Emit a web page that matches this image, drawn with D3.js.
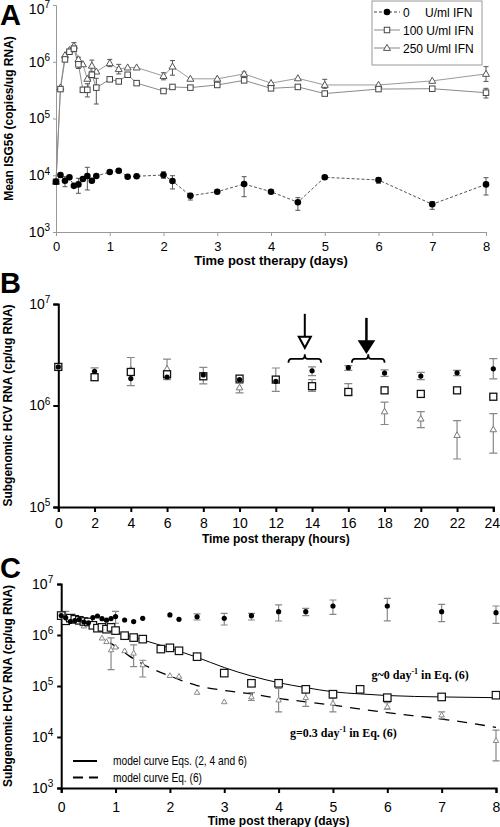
<!DOCTYPE html>
<html><head><meta charset="utf-8">
<script src="https://cdn.jsdelivr.net/npm/d3@7"></script>
<style>
body{margin:0;background:#fff}
svg{display:block;font-family:"Liberation Sans",Arial,sans-serif}
</style>
</head><body>
<svg id="chart" width="500" height="827"></svg>
<script>
// ---------------- Panel A data ----------------
const aDays = [0,0.083,0.167,0.25,0.333,0.417,0.5,0.583,0.667,0.75,1.0,1.167,1.333,1.5,2.0,2.167,2.5,3,3.5,4,4.5,5,6,7,8];
const aIfn0 = [7700,10100,8000,9200,6500,6900,8600,9700,8000,9700,11400,12000,9400,9600,10100,7900,4360,5130,7000,5130,3340,9200,8250,3080,6900];
const aIfn0Lo = [null,null,6290,null,null,4810,null,5500,null,null,null,null,null,null,8840,5730,3660,null,4190,null,2410,8590,7210,2510,4490];
const aIfn0Hi = [null,null,9440,null,null,8840,null,13800,null,null,null,null,null,null,11550,9820,4810,null,9440,null,4030,9710,9060,3420,9060];
const aIfn100 = [7700,3.3e5,1.1e6,1.5e6,1.7e6,9e5,3.2e5,3.2e5,5.9e5,3.5e5,4.9e5,4.5e5,5.9e5,4.2e5,3.05e5,3.6e5,3.5e5,3.9e5,4.7e5,3.4e5,3.6e5,2.75e5,3.3e5,3.35e5,2.85e5];
const aIfn100Lo = [null,null,null,null,null,null,null,2.4e5,null,1.8e5,null,null,null,null,null,null,null,null,null,null,null,null,null,null,2.3e5];
const aIfn100Hi = [null,null,null,null,null,null,null,4.1e5,null,5.1e5,null,null,null,null,null,null,null,null,null,null,null,null,null,null,3.4e5];
const aIfn250 = [7700,3.5e5,1.3e6,1.6e6,1.9e6,1.1e6,9e5,5.0e5,8.5e5,6.7e5,9.4e5,7.4e5,7.9e5,7.9e5,5.6e5,8.2e5,5.0e5,5.0e5,6.1e5,4.2e5,5.1e5,3.9e5,3.9e5,4.6e5,6.1e5];
const aIfn250Lo = [null,null,null,null,1.6e6,7.6e5,null,null,6.6e5,null,8.2e5,6.1e5,null,null,4.8e5,5.8e5,null,null,5.6e5,null,null,3.4e5,null,null,4.5e5];
const aIfn250Hi = [null,null,null,null,2.17e6,1.2e6,null,null,1.07e6,null,1.1e6,9e5,null,null,6.4e5,1.05e6,null,null,6.6e5,null,null,4.9e5,null,null,8.2e5];
const aXTicks = [0,1,2,3,4,5,6,7,8];
const aYTicks = [1e3,1e4,1e5,1e6,1e7];
const aLegend = ["0", "100 U/ml IFN", "250 U/ml IFN"];

// ---------------- Panel B data ----------------
const bHours = [0,2,4,6,8,10,12,14,16,18,20,22,24];
const bIfn0 = [2.4e6,2.17e6,1.84e6,1.91e6,2.0e6,1.8e6,1.73e6,2.2e6,2.36e6,2.09e6,1.95e6,2.1e6,2.3e6];
const bIfn0Lo = [null,null,null,null,null,null,null,1.97e6,2.22e6,1.94e6,1.8e6,1.97e6,1.83e6];
const bIfn0Hi = [null,null,null,null,null,null,null,2.4e6,2.47e6,2.24e6,2.12e6,2.22e6,2.9e6];
const bIfn100 = [2.4e6,1.9e6,2.14e6,2.03e6,1.94e6,1.84e6,1.8e6,1.55e6,1.36e6,1.41e6,1.3e6,1.41e6,1.22e6];
const bIfn250 = [2.4e6,2.0e6,2.25e6,2.3e6,1.9e6,1.5e6,1.8e6,1.55e6,1.36e6,8.7e5,7.4e5,5.1e5,5.8e5];
const bIfn250Lo = [null,1.77e6,1.57e6,1.8e6,1.63e6,1.33e6,1.38e6,1.38e6,1.25e6,6.5e5,6.05e5,2.97e5,3.4e5];
const bIfn250Hi = [null,2.35e6,2.97e6,2.87e6,2.37e6,1.65e6,2.34e6,1.8e6,1.64e6,1.08e6,8.7e5,7.1e5,8.3e5];
const bXTicks = [0,2,4,6,8,10,12,14,16,18,20,22,24];
const bYTicks = [1e5,1e6,1e7];
// annotations (hours, values)
const bArrowHours = [13.6, 17.0];
const bArrowTop = [8.0e6, 7.3e6];
const bArrowTip = [3.7e6, 3.35e6];
const bArrowFilled = [false, true];
const bBraceFrom = [12.7, 16.2];
const bBraceTo = [14.5, 18.0];
const bBracePeak = [3.2e6, 3.2e6];
const bBraceEnd = [2.64e6, 2.64e6];

// ---------------- Panel C data ----------------
const cDays0 = [0,0.083,0.167,0.25,0.333,0.417,0.5,0.583,0.667,0.75,0.833,0.917,1.0,1.167,1.333,1.5,2.0,2.167,2.5,3,3.5,4,4.5,5,6,7,8];
const cIfn0 = [2.4e6,2.17e6,1.84e6,1.91e6,2.0e6,1.8e6,1.73e6,2.2e6,2.36e6,2.09e6,1.95e6,2.1e6,2.3e6,1.97e6,1.83e6,2.12e6,2.47e6,2.03e6,2.28e6,2.12e6,2.39e6,2.87e6,2.87e6,3.7e6,3.7e6,2.87e6,2.74e6];
const cIfn0Lo = [null,null,null,null,null,null,null,null,null,null,null,null,1.7e6,null,null,null,null,null,1.97e6,1.57e6,1.97e6,1.88e6,2.39e6,2.54e6,1.9e6,1.83e6,1.69e6];
const cIfn0Hi = [null,null,null,null,null,null,null,null,null,null,null,null,2.9e6,null,null,null,null,null,2.6e6,2.65e6,2.66e6,3.88e6,3.33e6,4.86e6,5.24e6,3.99e6,3.7e6];
const cDays100 = [0,0.083,0.167,0.25,0.333,0.417,0.5,0.583,0.667,0.75,0.833,0.917,1.0,1.167,1.333,1.5,1.833,2.0,2.167,2.5,3,3.5,4,4.5,5,5.5,6,7,8];
const cIfn100 = [2.4e6,1.9e6,2.14e6,2.03e6,1.94e6,1.84e6,1.8e6,1.55e6,1.36e6,1.41e6,1.3e6,1.41e6,1.22e6,9.7e5,8.9e5,8.3e5,5.3e5,5.6e5,4.9e5,3.76e5,1.79e5,1.13e5,1.13e5,8.6e4,6.9e4,8.6e4,5.9e4,6.1e4,6.6e4];
const cDays250 = [0,0.083,0.167,0.25,0.333,0.417,0.5,0.583,0.667,0.75,0.833,0.917,1.0,1.167,1.333,1.5,2.0,2.167,2.5,3,3.5,4,4.5,5,6,7,8];
const cIfn250 = [2.4e6,2.0e6,2.25e6,2.3e6,1.9e6,1.5e6,1.8e6,1.55e6,1.36e6,8.7e5,7.4e5,5.1e5,5.8e5,4.9e5,4.4e5,2.6e5,1.6e5,1.55e5,7.5e4,4.9e4,6.1e4,5.3e4,5.9e4,4.6e4,3.9e4,2.7e4,8.5e3];
const cIfn250Lo = [null,2.0e6,null,null,null,null,null,null,null,null,null,2.1e5,null,null,2.4e5,1.5e5,null,null,null,null,5.2e4,3.1e4,4.0e4,3.1e4,3.5e4,2.3e4,3.4e3];
const cIfn250Hi = [null,2.9e6,null,null,null,null,null,null,null,null,null,8.8e5,null,null,6.4e5,3.2e5,null,null,null,null,7.4e4,9.0e4,9.0e4,5.8e4,4.7e4,3.1e4,1.37e4];
const cSolidDays = [0.67,1.0,1.17,1.5,2.0,2.5,3.0,3.5,4.0,4.5,5.0,5.5,6.0,7.0,8.0];
const cSolidVals = [1.45e6,1.13e6,1.0e6,8.0e5,5.5e5,3.65e5,2.3e5,1.57e5,1.16e5,9.3e4,7.7e4,7.0e4,6.5e4,6.1e4,5.9e4];
const cDashDays = [0.9,1.0,1.25,1.5,2.0,2.5,3.0,3.5,4.0,4.5,5.0,6.0,7.0,8.0];
const cDashVals = [7.0e5,6.0e5,3.9e5,2.7e5,1.57e5,1.02e5,8.2e4,7.0e4,5.7e4,4.9e4,4.2e4,3.0e4,2.25e4,1.55e4];
const cXTicks = [0,1,2,3,4,5,6,7,8];
const cYTicks = [1e3,1e4,1e5,1e6,1e7];
const cLegend = ["model curve Eqs. (2, 4 and 6)", "model curve Eq. (6)"];

// ---------------- helpers ----------------
const svg = d3.select('#chart');
const zip = (xs, ys) => xs.map((x, i) => ({x, y: ys[i], i}));
const triPath = (cx, cy, s) => {
  const h = s * 0.866;
  return `M${cx},${cy - h * 0.6}L${cx + s / 2},${cy + h * 0.4}L${cx - s / 2},${cy + h * 0.4}Z`;
};
function errBars(g, xs, lo, hi, x, y, cap, color, w) {
  const d = xs.map((v, i) => ({x: v, lo: lo[i], hi: hi[i]})).filter(d => d.lo != null);
  const e = g.append('g').attr('stroke', color).attr('stroke-width', w || 1).attr('fill', 'none');
  e.selectAll('path').data(d).join('path')
    .attr('d', d => {
      const px = x(d.x), y1 = y(d.lo), y2 = y(d.hi);
      return `M${px},${y1}V${y2}M${px - cap},${y1}H${px + cap}M${px - cap},${y2}H${px + cap}`;
    });
}
function circles(g, data, x, y, r) {
  g.append('g').selectAll('circle').data(data).join('circle')
    .attr('cx', d => x(d.x)).attr('cy', d => y(d.y)).attr('r', r).attr('fill', '#000');
}
function squares(g, data, x, y, s, color, sw) {
  g.append('g').selectAll('rect').data(data).join('rect')
    .attr('x', d => x(d.x) - s / 2).attr('y', d => y(d.y) - s / 2)
    .attr('width', s).attr('height', s).attr('fill', '#fff').attr('stroke', color).attr('stroke-width', sw);
}
function triangles(g, data, x, y, s, color, sw) {
  g.append('g').selectAll('path').data(data).join('path')
    .attr('d', d => triPath(x(d.x), y(d.y), s))
    .attr('fill', '#fff').attr('stroke', color).attr('stroke-width', sw);
}
function powLabels(axisG, fs, topShift) {
  axisG.selectAll('.tick text').each(function(d, i, nodes) {
    const t = d3.select(this);
    const e = Math.round(Math.log10(d));
    t.text('10').attr('font-size', fs);
    if (topShift && i === nodes.length - 1) t.attr('y', topShift);
    t.append('tspan').attr('dy', '-0.55em').attr('font-size', Math.round(fs * 0.68)).text(e);
  });
}

// ---------------- Panel A ----------------
{
  const x = d3.scaleLinear().domain([0, 8]).range([56, 486]);
  const y = d3.scaleLog().domain([1e3, 1e7]).range([232, 5]);
  const g = svg.append('g');
  const ya = g.append('g').attr('transform', `translate(${x(0)},0)`)
    .call(d3.axisLeft(y).tickValues(aYTicks).tickSize(3).tickPadding(3));
  ya.select('.domain').attr('stroke', '#999');
  ya.selectAll('.tick line').attr('stroke', '#999');
  ya.selectAll('.tick text').attr('font-family', '"Liberation Sans",Arial,sans-serif').attr('fill', '#000');
  powLabels(ya, 14, 4);
  const xa = g.append('g').attr('transform', `translate(0,${y(1e3)})`)
    .call(d3.axisBottom(x).tickValues(aXTicks).tickSize(4).tickPadding(3));
  xa.select('.domain').attr('stroke', '#999');
  xa.selectAll('.tick line').attr('stroke', '#999');
  xa.selectAll('.tick text').attr('font-size', 13).attr('font-family', '"Liberation Sans",Arial,sans-serif')
    .attr('y', 19).attr('dy', 0);
  g.append('text').attr('x', x(4)).attr('y', 264.5).attr('text-anchor', 'middle')
    .attr('font-size', 13).attr('font-weight', 'bold').text('Time post therapy (days)');
  g.append('text').attr('transform', `translate(13,${(y(1e7) + y(1e3)) / 2}) rotate(-90)`)
    .attr('text-anchor', 'middle').attr('font-size', 12).attr('font-weight', 'bold')
    .text('Mean ISG56 (copies/ug RNA)');
  const line = d3.line().x(d => x(d.x)).y(d => y(d.y));
  g.append('path').attr('d', line(zip(aDays, aIfn250))).attr('fill', 'none').attr('stroke', '#9a9a9a').attr('stroke-width', 1);
  g.append('path').attr('d', line(zip(aDays, aIfn100))).attr('fill', 'none').attr('stroke', '#8a8a8a').attr('stroke-width', 1);
  g.append('path').attr('d', line(zip(aDays, aIfn0))).attr('fill', 'none').attr('stroke', '#555').attr('stroke-width', 1).attr('stroke-dasharray', '3,2');
  errBars(g, aDays, aIfn250Lo, aIfn250Hi, x, y, 2.5, '#555', 1);
  errBars(g, aDays, aIfn100Lo, aIfn100Hi, x, y, 2.5, '#555', 1);
  errBars(g, aDays, aIfn0Lo, aIfn0Hi, x, y, 2.5, '#555', 1);
  triangles(g, zip(aDays, aIfn250), x, y, 7, '#555', 1);
  squares(g, zip(aDays, aIfn100), x, y, 5.5, '#444', 1);
  circles(g, zip(aDays, aIfn0), x, y, 3.3);
  const lg = g.append('g');
  lg.append('rect').attr('x', 372).attr('y', 1).attr('width', 110).attr('height', 64)
    .attr('fill', '#fff').attr('stroke', '#999');
  const ly = [12, 30, 48];
  aLegend.forEach((t, i) => {
    const l = lg.append('line').attr('x1', 374).attr('x2', 400).attr('y1', ly[i]).attr('y2', ly[i])
      .attr('stroke', i === 0 ? '#444' : '#888').attr('stroke-width', 1);
    if (i === 0) l.attr('stroke-dasharray', '3,2');
    if (i === 0) lg.append('circle').attr('cx', 387).attr('cy', ly[i]).attr('r', 3.3).attr('fill', '#000');
    if (i === 1) lg.append('rect').attr('x', 387 - 2.75).attr('y', ly[i] - 2.75).attr('width', 5.5).attr('height', 5.5).attr('fill', '#fff').attr('stroke', '#444');
    if (i === 2) lg.append('path').attr('d', triPath(387, ly[i], 7)).attr('fill', '#fff').attr('stroke', '#555');
    lg.append('text').attr('x', 403).attr('y', ly[i] + 4.5).attr('font-size', 12).text(t);
  });
  lg.append('text').attr('x', 425).attr('y', ly[0] + 4.5).attr('font-size', 12).text('U/ml IFN');
  svg.append('text').attr('x', 0).attr('y', 25).attr('font-size', 29).attr('font-weight', 'bold').text('A');
}

// ---------------- Panel B ----------------
{
  const x = d3.scaleLinear().domain([0, 24]).range([58.3, 493.3]);
  const y = d3.scaleLog().domain([1e5, 1e7]).range([507, 304]);
  const g = svg.append('g');
  const ya = g.append('g').attr('transform', `translate(${x(0)},0)`)
    .call(d3.axisLeft(y).tickValues(bYTicks).tickSize(5).tickPadding(3));
  ya.selectAll('.domain,.tick line').attr('stroke', '#000').attr('stroke-width', 2);
  ya.selectAll('.tick text').attr('font-family', '"Liberation Sans",Arial,sans-serif').attr('fill', '#000');
  powLabels(ya, 14);
  const xa = g.append('g').attr('transform', `translate(0,${y(1e5)})`)
    .call(d3.axisBottom(x).tickValues(bXTicks).tickSize(5).tickPadding(3));
  xa.selectAll('.domain,.tick line').attr('stroke', '#000').attr('stroke-width', 2);
  xa.selectAll('.tick text').attr('font-size', 14).attr('font-family', '"Liberation Sans",Arial,sans-serif')
    .attr('y', 21).attr('dy', 0)
    .attr('x', d => d === 24 ? -1.5 : 0);
  g.append('text').attr('x', (x(0) + x(24)) / 2).attr('y', 543).attr('text-anchor', 'middle')
    .attr('font-size', 12).attr('font-weight', 'bold').text('Time post therapy (hours)');
  g.append('text').attr('transform', `translate(12,${(y(1e7) + y(1e5)) / 2}) rotate(-90)`)
    .attr('text-anchor', 'middle').attr('font-size', 12).attr('font-weight', 'bold')
    .text('Subgenomic HCV RNA (cp/ug RNA)');
  errBars(g, bHours, bIfn250Lo, bIfn250Hi, x, y, 4, '#888', 1.2);
  errBars(g, bHours, bIfn0Lo, bIfn0Hi, x, y, 4, '#888', 1.2);
  triangles(g, zip(bHours, bIfn250), x, y, 6.5, '#777', 1);
  squares(g, zip(bHours, bIfn100), x, y, 7, '#111', 1.3);
  circles(g, zip(bHours, bIfn0), x, y, 2.6);
  bArrowHours.forEach((h, i) => {
    const px = x(h), yt = y(bArrowTop[i]), yp = y(bArrowTip[i]);
    const hh = 11, hw = bArrowFilled[i] ? 7 : 6;
    g.append('line').attr('x1', px).attr('x2', px).attr('y1', yt).attr('y2', yp - hh)
      .attr('stroke', '#000').attr('stroke-width', bArrowFilled[i] ? 2.5 : 2);
    g.append('path').attr('d', `M${px - hw},${yp - hh}L${px + hw},${yp - hh}L${px},${yp}Z`)
      .attr('fill', bArrowFilled[i] ? '#000' : '#fff').attr('stroke', '#000').attr('stroke-width', 2)
      .attr('stroke-linejoin', 'miter');
  });
  bBraceFrom.forEach((h0, i) => {
    const x0 = x(h0), x1 = x(bBraceTo[i]), xm = (x0 + x1) / 2;
    const yp = y(bBracePeak[i]), ye = y(bBraceEnd[i]), ym = (yp + ye) / 2 + 0.5;
    const r = 3;
    const d = `M${x0},${ye}Q${x0},${ym} ${x0 + r},${ym}L${xm - r},${ym}Q${xm},${ym} ${xm},${yp}` +
              `Q${xm},${ym} ${xm + r},${ym}L${x1 - r},${ym}Q${x1},${ym} ${x1},${ye}`;
    g.append('path').attr('d', d).attr('fill', 'none').attr('stroke', '#000').attr('stroke-width', 1.8);
  });
  svg.append('text').attr('x', 0).attr('y', 293).attr('font-size', 29).attr('font-weight', 'bold').text('B');
}

// ---------------- Panel C ----------------
{
  const x = d3.scaleLinear().domain([0, 8]).range([61.2, 496]);
  const y = d3.scaleLog().domain([1e3, 1e7]).range([788, 584]);
  const g = svg.append('g');
  const ya = g.append('g').attr('transform', `translate(${x(0)},0)`)
    .call(d3.axisLeft(y).tickValues(cYTicks).tickSize(4).tickPadding(4));
  ya.selectAll('.domain,.tick line').attr('stroke', '#000').attr('stroke-width', 2);
  ya.selectAll('.tick text').attr('font-family', '"Liberation Sans",Arial,sans-serif').attr('fill', '#000');
  powLabels(ya, 14);
  const xa = g.append('g').attr('transform', `translate(0,${y(1e3)})`)
    .call(d3.axisBottom(x).tickValues(cXTicks).tickSize(5).tickPadding(3));
  xa.selectAll('.domain,.tick line').attr('stroke', '#000').attr('stroke-width', 2);
  xa.selectAll('.tick text').attr('font-size', 14).attr('font-family', '"Liberation Sans",Arial,sans-serif')
    .attr('y', 23.5).attr('dy', 0);
  g.append('text').attr('x', (x(0) + x(8)) / 2).attr('y', 825).attr('text-anchor', 'middle')
    .attr('font-size', 12).attr('font-weight', 'bold').text('Time post therapy (days)');
  g.append('text').attr('transform', `translate(12,${(y(1e7) + y(1e3)) / 2}) rotate(-90)`)
    .attr('text-anchor', 'middle').attr('font-size', 12).attr('font-weight', 'bold')
    .text('Subgenomic HCV RNA (cp/ug RNA)');
  const line = d3.line().x(d => x(d.x)).y(d => y(d.y)).curve(d3.curveMonotoneX);
  g.append('path').attr('d', line(zip(cSolidDays, cSolidVals))).attr('fill', 'none').attr('stroke', '#000').attr('stroke-width', 1);
  g.append('path').attr('d', line(zip(cDashDays, cDashVals))).attr('fill', 'none').attr('stroke', '#000')
    .attr('stroke-width', 1.3).attr('stroke-dasharray', '10,8');
  errBars(g, cDays250, cIfn250Lo, cIfn250Hi, x, y, 3.5, '#888', 1.2);
  errBars(g, cDays0, cIfn0Lo, cIfn0Hi, x, y, 3.5, '#888', 1.2);
  triangles(g, zip(cDays250, cIfn250), x, y, 5.5, '#888', 1);
  squares(g, zip(cDays100, cIfn100), x, y, 7.5, '#111', 1.2);
  circles(g, zip(cDays0, cIfn0), x, y, 2.6);
  const t1 = g.append('text').attr('x', 371.5).attr('y', 679).attr('font-family', '"Liberation Serif","Times New Roman",serif')
    .attr('font-size', 12).attr('font-weight', 'bold');
  t1.append('tspan').text('g~0 day');
  t1.append('tspan').attr('dy', -5).attr('font-size', 8).text('-1');
  t1.append('tspan').attr('dy', 5).text(' in Eq. (6)');
  const t2 = g.append('text').attr('x', 290).attr('y', 736.5).attr('font-family', '"Liberation Serif","Times New Roman",serif')
    .attr('font-size', 12).attr('font-weight', 'bold');
  t2.append('tspan').text('g=0.3 day');
  t2.append('tspan').attr('dy', -5).attr('font-size', 8).text('-1');
  t2.append('tspan').attr('dy', 5).text(' in Eq. (6)');
  g.append('line').attr('x1', 73).attr('x2', 97).attr('y1', 761).attr('y2', 761).attr('stroke', '#000').attr('stroke-width', 2);
  g.append('line').attr('x1', 73).attr('x2', 98).attr('y1', 777.5).attr('y2', 777.5).attr('stroke', '#000')
    .attr('stroke-width', 2).attr('stroke-dasharray', '10,6');
  g.append('text').attr('x', 113).attr('y', 765).attr('font-size', 13)
    .attr('textLength', 134).attr('lengthAdjust', 'spacingAndGlyphs').text(cLegend[0]);
  g.append('text').attr('x', 113).attr('y', 781.5).attr('font-size', 13)
    .attr('textLength', 89).attr('lengthAdjust', 'spacingAndGlyphs').text(cLegend[1]);
  svg.append('text').attr('x', 0).attr('y', 578).attr('font-size', 29).attr('font-weight', 'bold').text('C');
}
</script>
</body></html>
